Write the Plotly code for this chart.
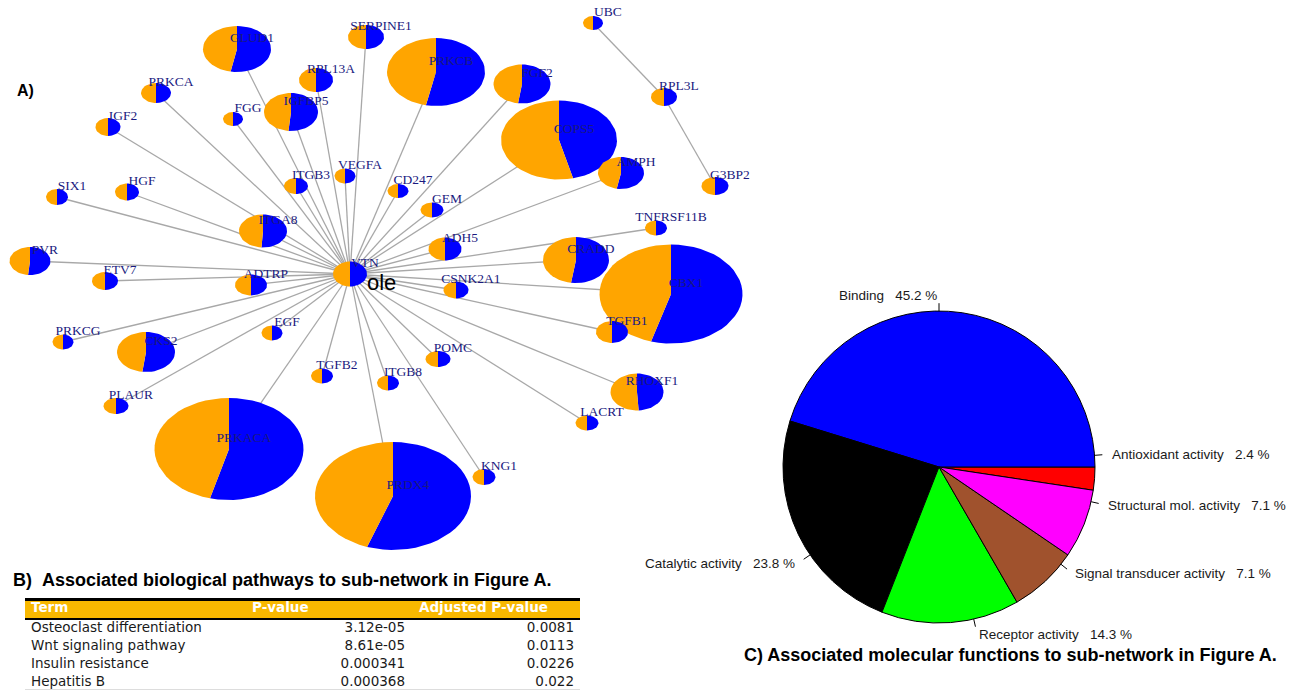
import math
import plotly.graph_objects as go

# ---------------- Network data (panel A) ----------------
node_names = ["GLUD1", "SERPINE1", "RPL13A", "PRKCA", "IGF2", "FGG", "IGFBP5", "ITGB3", "VEGFA",
              "SIX1", "HGF", "ITGA8", "PVR", "ETV7", "ADTRP", "VTN", "PRKCG", "CKS2", "EGF",
              "TGFB2", "ITGB8", "PLAUR", "PRKACA", "PRDX4", "KNG1", "POMC", "LACRT", "RHOXF1",
              "TGFB1", "CBX1", "CSNK2A1", "CRADD", "ADH5", "TNFRSF11B", "GEM", "CD247", "COPS5",
              "AMPH", "PRKCB", "FGF2", "UBC", "RPL3L", "G3BP2"]
node_x = [237, 366, 316, 156, 108, 233, 291, 296, 345, 57, 127, 263, 30, 105, 251, 350, 63, 146, 272,
          322, 388, 116, 229, 393, 484, 438, 587, 637, 612, 671, 456, 576, 445, 656, 432, 398, 559,
          621, 436, 522, 593, 664, 715]
node_y = [49, 37, 80, 93, 127, 119, 112, 186, 176, 197, 192, 231, 261, 281, 285, 274, 342, 352, 333,
          376, 383, 406, 449, 496, 477, 359, 423, 392, 332, 294, 290, 260, 249, 228, 210, 191, 140,
          173, 72, 84, 23, 97, 186]
node_rx = [34, 18, 17, 15, 12.5, 10, 27, 12, 10.5, 11, 12, 24, 20.5, 13, 16, 17, 10.5, 29, 10.5,
           11, 11, 12.5, 74.5, 78, 11.5, 12.5, 11.5, 26.5, 16, 71.5, 12.5, 33, 16.5, 11, 11.5, 10.5,
           58, 23, 49, 28.5, 10, 13, 13.5]
node_ry = [23, 12, 12, 10, 9, 7, 19, 8, 7.5, 8, 8.5, 16.5, 14, 9, 10.5, 12.5, 7.5, 20, 7.5,
           7.5, 7.5, 8, 51, 54, 8, 8, 7.5, 18.5, 11, 49.5, 8.5, 23, 11.5, 7.5, 7.5, 7,
           39.5, 16, 34, 19.5, 7, 9, 9]
node_blue = [0.53, 0.5, 0.5, 0.5, 0.5, 0.5, 0.515, 0.5, 0.5, 0.5, 0.5, 0.51, 0.515, 0.5, 0.5, 0.5, 0.5,
             0.52, 0.5, 0.5, 0.5, 0.5, 0.541, 0.554, 0.5, 0.5, 0.5, 0.49, 0.5, 0.545, 0.5, 0.524,
             0.5, 0.5, 0.5, 0.5, 0.461, 0.53, 0.533, 0.522, 0.5, 0.5, 0.5]
edges = [("VTN", n) for n in node_names if n not in ("VTN", "UBC", "RPL3L", "G3BP2")]
edges += [("UBC", "RPL3L"), ("RPL3L", "G3BP2")]

# ---------------- Table data (panel B) ----------------
terms = ["Osteoclast differentiation", "Wnt signaling pathway", "Insulin resistance", "Hepatitis B"]
pvals = ["3.12e-05", "8.61e-05", "0.000341", "0.000368"]
adjp = ["0.0081", "0.0113", "0.0226", "0.022"]
table_header = ["Term", "P-value", "Adjusted P-value"]

# ---------------- Pie data (panel C) ----------------
mf_labels = ["Antioxidant activity", "Binding", "Catalytic activity", "Receptor activity",
             "Signal transducer activity", "Structural mol. activity"]
mf_counts = [1, 19, 10, 6, 3, 3]
mf_colors = ["#FF0000", "#0000FF", "#000000", "#00FF00", "#A0522D", "#FF00FF"]

ORANGE = "#FFA500"
BLUE = "#0000FF"
W, H = 1299, 690

fig = go.Figure()

# edges
idx = {n: i for i, n in enumerate(node_names)}
ex, ey = [], []
for a, b in edges:
    ex += [node_x[idx[a]], node_x[idx[b]], None]
    ey += [node_y[idx[a]], node_y[idx[b]], None]
fig.add_trace(go.Scatter(x=ex, y=ey, mode="lines", line=dict(color="#A8A8A8", width=1.3),
                         hoverinfo="skip", showlegend=False))


def wedge(cx, cy, rx, ry, a0, a1, n=60):
    xs, ys = [cx], [cy]
    steps = max(4, int(n * (a1 - a0)))
    for k in range(steps + 1):
        t = 2 * math.pi * (a0 + (a1 - a0) * k / steps)
        xs.append(cx + rx * math.sin(t))
        ys.append(cy - ry * math.cos(t))
    xs.append(cx)
    ys.append(cy)
    return xs, ys


order = sorted(range(len(node_names)), key=lambda i: -node_rx[i])
for i in order:
    f = node_blue[i]
    bx, by = wedge(node_x[i], node_y[i], node_rx[i], node_ry[i], 0, f)
    ox, oy = wedge(node_x[i], node_y[i], node_rx[i], node_ry[i], f, 1)
    fig.add_trace(go.Scatter(x=bx, y=by, mode="lines", fill="toself", fillcolor=BLUE,
                             line=dict(width=0, color=BLUE), hoverinfo="skip", showlegend=False))
    fig.add_trace(go.Scatter(x=ox, y=oy, mode="lines", fill="toself", fillcolor=ORANGE,
                             line=dict(width=0, color=ORANGE), hoverinfo="skip", showlegend=False))

fig.add_trace(go.Scatter(x=[x + 15 for x in node_x], y=[y - 10 for y in node_y], mode="text",
                         text=node_names,
                         textfont=dict(family="Liberation Serif", size=13.5, color="#1A1A80"),
                         hoverinfo="skip", showlegend=False))

# ---------------- Pie (panel C) ----------------
pcx, pcy, pr = 939, 467, 156
fig.add_trace(go.Pie(values=mf_counts, labels=mf_labels, sort=False, direction="counterclockwise",
                     rotation=90, textinfo="none", hoverinfo="label+percent",
                     marker=dict(colors=mf_colors, line=dict(color="black", width=1)),
                     domain=dict(x=[(pcx - pr) / W, (pcx + pr) / W],
                                 y=[(H - pcy - pr) / H, (H - pcy + pr) / H]),
                     showlegend=False))

total = sum(mf_counts)
cum = 0
tx, ty = [], []
annotations = []
for lab, c in zip(mf_labels, mf_counts):
    mid = 2 * math.pi * (cum + c / 2) / total
    cum += c
    ca, sa = math.cos(mid), math.sin(mid)
    tx += [pcx + pr * ca, pcx + 1.05 * pr * ca, None]
    ty += [pcy - pr * sa, pcy - 1.05 * pr * sa, None]
    pct = 100 * c / total
    annotations.append(dict(x=pcx + 1.1 * pr * ca, y=pcy - 1.1 * pr * sa, xref="x", yref="y",
                            text=f"{lab}\u00a0\u00a0\u00a0{pct:.1f} %", showarrow=False,
                            xanchor="right" if ca < 1e-9 else "left", yanchor="middle",
                            font=dict(family="Liberation Sans", size=13.5, color="#1a1a1a")))
fig.add_trace(go.Scatter(x=tx, y=ty, mode="lines", line=dict(color="black", width=1),
                         hoverinfo="skip", showlegend=False))

# ---------------- Table (panel B) ----------------
HDR = "#F8B800"
TBL_L, TBL_R = 25, 580
col_x = [31, 252, 419]          # header text starts
val_right = [405, 574]          # right edge of value columns
row_y0, row_dy = 629, 18
hdr_y = 609

shapes = [
    dict(type="rect", xref="x", yref="y", x0=TBL_L, x1=TBL_R, y0=600, y1=618.5,
         fillcolor=HDR, line=dict(width=0), layer="below"),
    dict(type="line", xref="x", yref="y", x0=TBL_L, x1=TBL_R, y0=599.5, y1=599.5, line=dict(color="black", width=3)),
    dict(type="line", xref="x", yref="y", x0=TBL_L, x1=TBL_R, y0=619, y1=619, line=dict(color="black", width=2)),
    dict(type="line", xref="x", yref="y", x0=TBL_L, x1=TBL_R, y0=689.5, y1=689.5, line=dict(color="#DDDDDD", width=1)),
]

fig.add_trace(go.Scatter(x=col_x, y=[hdr_y] * 3, mode="text", text=[f"<b>{h}</b>" for h in table_header],
                         textposition="middle right",
                         textfont=dict(family="DejaVu Sans", size=13.5, color="white"),
                         hoverinfo="skip", showlegend=False))
rows_y = [row_y0 + k * row_dy for k in range(len(terms))]
fig.add_trace(go.Scatter(x=[col_x[0]] * len(terms), y=rows_y, mode="text", text=terms,
                         textposition="middle right",
                         textfont=dict(family="DejaVu Sans", size=13.5, color="#1a1a1a"),
                         hoverinfo="skip", showlegend=False))
fig.add_trace(go.Scatter(x=[val_right[0]] * len(pvals), y=rows_y, mode="text", text=pvals,
                         textposition="middle left",
                         textfont=dict(family="DejaVu Sans", size=13.5, color="#1a1a1a"),
                         hoverinfo="skip", showlegend=False))
fig.add_trace(go.Scatter(x=[val_right[1]] * len(adjp), y=rows_y, mode="text", text=adjp,
                         textposition="middle left",
                         textfont=dict(family="DejaVu Sans", size=13.5, color="#1a1a1a"),
                         hoverinfo="skip", showlegend=False))

annotations += [
    dict(x=15, y=90, xref="x", yref="y", text="<b>A)</b>", showarrow=False, xanchor="left",
         font=dict(family="Liberation Sans", size=16, color="black")),
    dict(x=365, y=282, xref="x", yref="y", text="ole", showarrow=False, xanchor="left",
         font=dict(family="Liberation Sans", size=22, color="black")),
    dict(x=11, y=580, xref="x", yref="y", text="<b>B)\u00a0\u00a0Associated biological pathways to sub-network in Figure A.</b>",
         showarrow=False, xanchor="left", font=dict(family="Liberation Sans", size=18, color="black")),
    dict(x=742, y=655, xref="x", yref="y", text="<b>C) Associated molecular functions to sub-network in Figure A.</b>",
         showarrow=False, xanchor="left", font=dict(family="Liberation Sans", size=18, color="black")),
]

fig.update_layout(
    width=W, height=H, margin=dict(l=0, r=0, t=0, b=0), paper_bgcolor="white", plot_bgcolor="white",
    xaxis=dict(range=[0, W], visible=False, fixedrange=True),
    yaxis=dict(range=[H, 0], visible=False, fixedrange=True),
    shapes=shapes, annotations=annotations, showlegend=False, hovermode=False,
)
fig.write_html("out.html", config={"displayModeBar": False},
               post_script="document.body.style.margin='0';document.body.style.overflow='hidden';")
